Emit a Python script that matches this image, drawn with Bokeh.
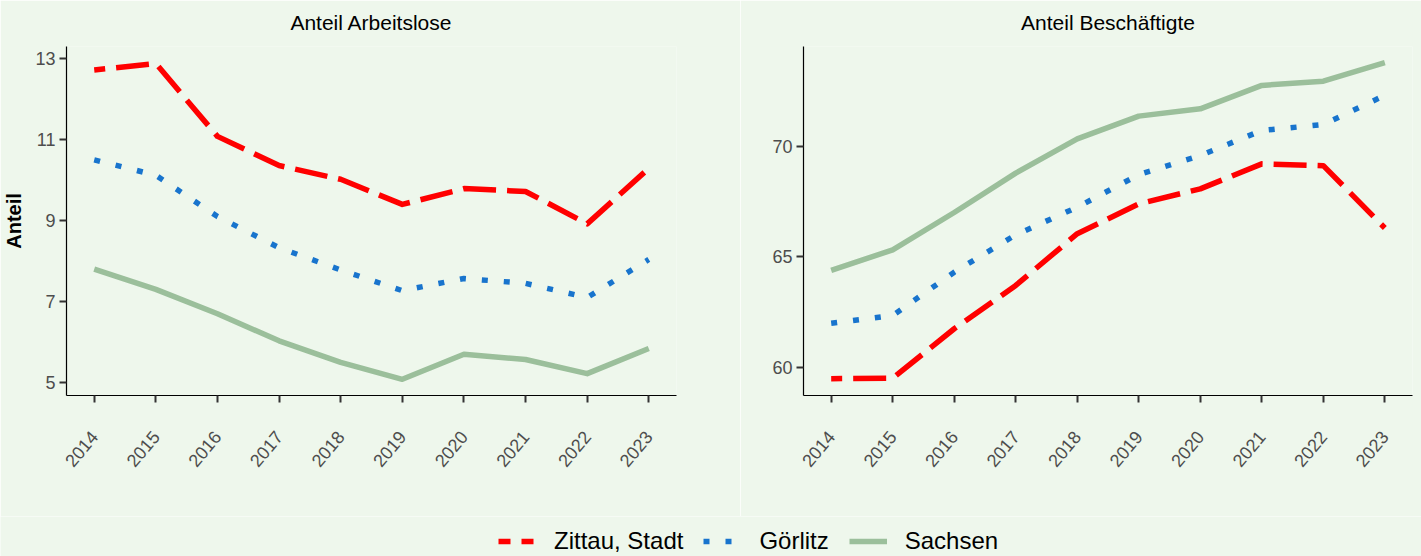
import math
from bokeh.plotting import figure
from bokeh.models import Range1d, FixedTicker, Legend, LegendItem, Title
from bokeh.core.properties import value
from bokeh.layouts import row, column
from bokeh.embed import file_html
from bokeh.resources import INLINE

# ---- data ----
years = [2014, 2015, 2016, 2017, 2018, 2019, 2020, 2021, 2022, 2023]

arbeitslose_zittau = [12.72, 12.88, 11.08, 10.36, 10.02, 9.40, 9.79, 9.72, 8.92, 10.29]
arbeitslose_goerlitz = [10.50, 10.12, 9.10, 8.33, 7.78, 7.27, 7.57, 7.45, 7.10, 8.04]
arbeitslose_sachsen = [7.80, 7.30, 6.70, 6.03, 5.50, 5.08, 5.70, 5.57, 5.22, 5.84]

beschaeftigte_zittau = [59.48, 59.50, 61.74, 63.70, 66.04, 67.39, 68.07, 69.20, 69.12, 66.30]
beschaeftigte_goerlitz = [61.99, 62.34, 64.30, 65.99, 67.24, 68.71, 69.58, 70.71, 70.98, 72.30]
beschaeftigte_sachsen = [64.38, 65.31, 67.00, 68.78, 70.33, 71.36, 71.69, 72.75, 72.94, 73.78]

series_names = ["Zittau, Stadt", "Görlitz", "Sachsen"]
ticks_left = [5, 7, 9, 11, 13]
ticks_right = [60, 65, 70]
titles = ["Anteil Arbeitslose", "Anteil Beschäftigte"]
y_label = "Anteil"

# ---- style ----
BG = "#EEF7EC"
FONT = "Liberation Sans"
RED = "#FF0000"
BLUE = "#1874CD"
GREEN = "#9BBF9B"
LW = 5.5


def style_axis(ax):
    ax.axis_line_color = "black"
    ax.axis_line_width = 1.2
    ax.major_tick_line_color = "#333333"
    ax.major_tick_line_width = 2
    ax.major_tick_out = 7
    ax.major_tick_in = 0
    ax.minor_tick_line_color = None
    ax.major_label_text_color = "#4D4D4D"
    ax.major_label_text_font_size = "18px"
    ax.major_label_text_font = FONT


def make_panel(title, zit, goe, sac, yr, yticks, ylab, bl, br, fw):
    p = figure(frame_width=fw, frame_height=349,
               min_border_left=bl, min_border_right=br,
               min_border_top=46, min_border_bottom=121,
               x_range=Range1d(2013.55, 2023.45), y_range=Range1d(*yr),
               output_backend="svg", toolbar_location=None,
               background_fill_color=BG, border_fill_color=BG,
               outline_line_color=None)
    # small spacer between frame and title, then the title itself
    p.add_layout(Title(text=" ", text_font_size="6px", standoff=0,
                       text_font=FONT), "above")
    p.add_layout(Title(text=title, align="center", text_font_size="21px",
                       text_font_style="normal", text_color="black",
                       text_font=FONT), "above")
    p.xgrid.visible = False
    p.ygrid.visible = False
    for ax in (p.xaxis[0], p.yaxis[0]):
        style_axis(ax)
    p.xaxis.ticker = FixedTicker(ticks=years)
    p.xaxis.major_label_orientation = math.radians(50)
    p.xaxis.major_label_standoff = 31
    p.yaxis.ticker = FixedTicker(ticks=yticks)
    p.yaxis.major_label_standoff = 4
    if ylab:
        p.yaxis.axis_label = ylab
        p.yaxis.axis_label_text_font = FONT
        p.yaxis.axis_label_text_font_size = "20px"
        p.yaxis.axis_label_text_font_style = "bold"
        p.yaxis.axis_label_text_color = "black"
        p.yaxis.axis_label_standoff = 7
    p.line(years, zit, line_color=RED, line_width=LW, line_dash="33 11",
           line_dash_offset=22, line_join="round")
    p.line(years, goe, line_color=BLUE, line_width=LW, line_dash="6 16",
           line_join="round")
    p.line(years, sac, line_color=GREEN, line_width=LW, line_join="round")
    return p


p1 = make_panel(titles[0], arbeitslose_zittau, arbeitslose_goerlitz, arbeitslose_sachsen,
                (4.68, 13.30), ticks_left, y_label, 66, 64, 610)
p2 = make_panel(titles[1], beschaeftigte_zittau, beschaeftigte_goerlitz, beschaeftigte_sachsen,
                (58.72, 74.51), ticks_right, None, 63, 9, 609)

# legend strip (legend keys use proxy renderers placed outside the visible range)
p3 = figure(width=1421, height=40, min_border=0,
            x_range=Range1d(0, 1), y_range=Range1d(0, 1),
            x_axis_location=None, y_axis_location=None,
            output_backend="svg", toolbar_location=None,
            background_fill_color=BG, border_fill_color=BG,
            outline_line_color=None)
p3.xgrid.visible = False
p3.ygrid.visible = False
r1 = p3.line(x=[5, 6], y=[5, 6], line_color=RED, line_width=LW, line_dash="12 11")
r2 = p3.line(x=[5, 6], y=[5, 6], line_color=BLUE, line_width=LW, line_dash="6 16")
r3 = p3.line(x=[5, 6], y=[5, 6], line_color=GREEN, line_width=LW)
legend = Legend(items=[LegendItem(label=value(series_names[0]), renderers=[r1]),
                       LegendItem(label=value(series_names[1]), renderers=[r2]),
                       LegendItem(label=value(series_names[2]), renderers=[r3])],
                orientation="horizontal", location=(498, 1),
                glyph_width=38, glyph_height=20, label_standoff=18, spacing=20,
                padding=0, margin=0, background_fill_alpha=0,
                border_line_color=None, label_text_font_size="24px",
                label_text_font=FONT, label_text_color="black")
p3.add_layout(legend)

layout = column(row(p1, p2), p3)
open("out.html", "w").write(file_html(layout, INLINE))
